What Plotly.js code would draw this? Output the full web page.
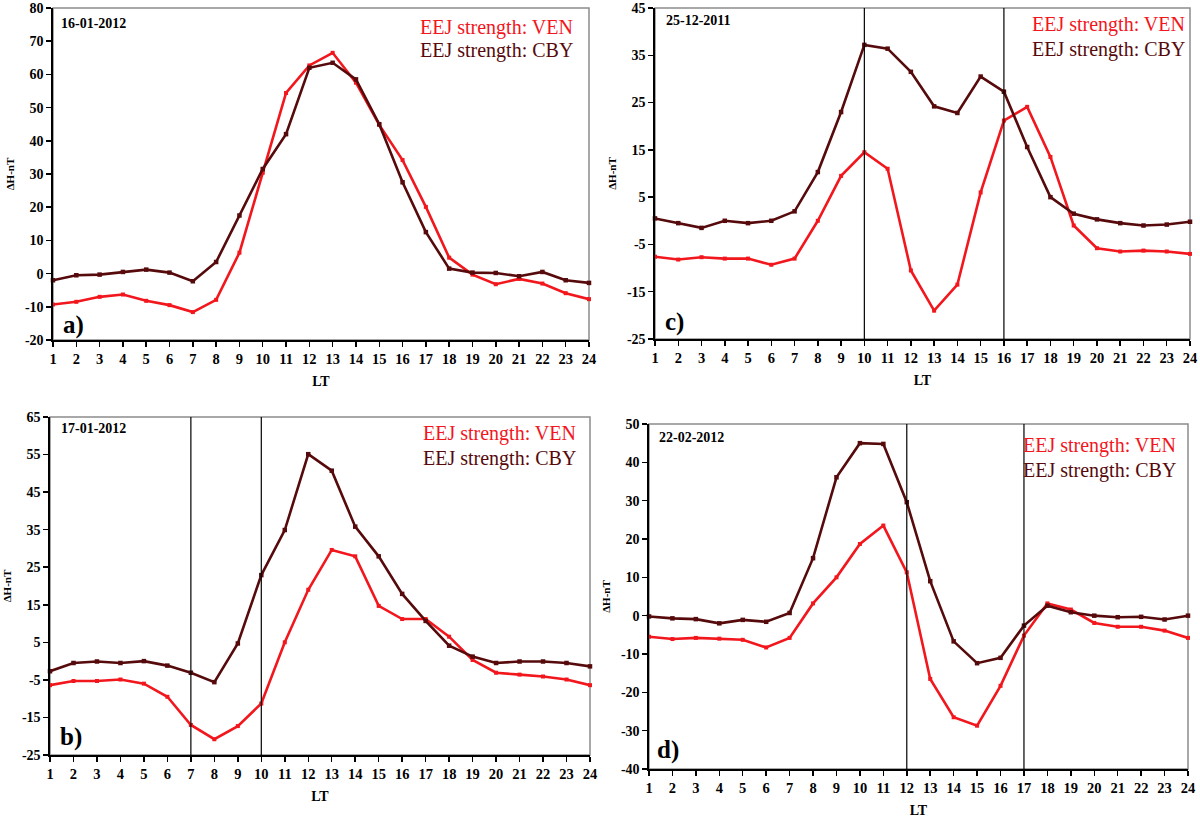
<!DOCTYPE html>
<html>
<head>
<meta charset="utf-8">
<script src="https://cdn.plot.ly/plotly-3.0.1.min.js"></script>
<style>html,body{margin:0;padding:0;background:#fff;}#chart{width:1200px;height:821px;}</style>
</head>
<body>
<div id="chart"></div>
<script>
// ---------- data ----------
const hours = [1,2,3,4,5,6,7,8,9,10,11,12,13,14,15,16,17,18,19,20,21,22,23,24];

// a) 16-01-2012
const venA = [-9.3,-8.5,-7.0,-6.3,-8.2,-9.5,-11.6,-7.9,6.3,30.4,54.4,62.7,66.5,57.5,44.8,34.2,20.1,4.8,-0.3,-3.2,-1.6,-3.0,-5.9,-7.7];
const cbyA = [-2.0,-0.5,-0.3,0.5,1.2,0.3,-2.3,3.5,17.5,31.5,42.0,62.0,63.5,58.5,45.0,27.5,12.5,1.5,0.3,0.2,-0.8,0.5,-2.0,-2.8];

// c) 25-12-2011
const venC = [-7.6,-8.2,-7.7,-8.0,-8.0,-9.3,-8.0,0.0,9.5,14.5,11.0,-10.5,-19.0,-13.5,6.0,21.2,24.1,13.5,-1.0,-5.8,-6.5,-6.3,-6.5,-7.0];
const cbyC = [0.5,-0.5,-1.5,0.0,-0.5,0.0,2.0,10.3,23.0,37.2,36.4,31.5,24.2,22.8,30.5,27.3,15.6,5.0,1.5,0.3,-0.5,-1.0,-0.8,-0.2];

// b) 17-01-2012
const venB = [-6.4,-5.3,-5.3,-4.9,-6.0,-9.5,-17.0,-20.8,-17.3,-11.3,5.0,19.0,29.6,27.9,14.7,11.2,11.2,6.5,0.3,-3.1,-3.6,-4.1,-4.9,-6.4];
const cbyB = [-2.7,-0.5,-0.1,-0.5,0.0,-1.2,-3.1,-5.6,4.7,22.9,34.9,55.1,50.7,35.8,27.9,17.9,10.7,4.1,1.2,-0.5,-0.1,-0.1,-0.5,-1.4];

// d) 22-02-2012
const venD = [-5.5,-6.1,-5.8,-6.0,-6.3,-8.3,-5.8,3.2,10.0,18.7,23.5,11.3,-16.5,-26.5,-28.7,-18.3,-5.2,3.2,1.6,-1.9,-2.9,-2.9,-3.9,-5.8];
const cbyD = [-0.2,-0.7,-0.9,-2.0,-1.1,-1.6,0.7,15.0,36.1,45.0,44.8,29.6,9.0,-6.7,-12.4,-11.0,-2.6,2.6,0.9,0.0,-0.4,-0.3,-1.0,0.0];

// reference (vertical) lines, LT
const markB = [7, 10];
const markC = [10, 16];
const markD = [12, 17];

// tick values / labels
const ytickA = [-20,-10,0,10,20,30,40,50,60,70,80];
const ylabA  = ["-20","-10","0","10","20","30","40","50","60","70","80"];
const ytickC = [-25,-15,-5,5,15,25,35,45];
const ylabC  = ["-25","-15","-5","5","15","25","35","45"];
const ytickB = [-25,-15,-5,5,15,25,35,45,55,65];
const ylabB  = ["-25","-15","-5","5","15","25","35","45","55","65"];
const ytickD = [-40,-30,-20,-10,0,10,20,30,40,50];
const ylabD  = ["-40","-30","-20","-10","0","10","20","30","40","50"];

const dates = ["16-01-2012","25-12-2011","17-01-2012","22-02-2012"];
const panelTags = ["a)","c)","b)","d)"];
const nameVEN = "EEJ strength: VEN";
const nameCBY = "EEJ strength: CBY";

// ---------- style ----------
const W = 1200, H = 821;
const px = x => x / W;
const py = y => 1 - y / H;
const RED = "#f2161d";
const MAROON = "#560a0c";
const SERIF = "Liberation Serif";

// panel boxes in pixels: [left, right, top, bottom]
const boxes = [
  [53, 589, 8, 340],     // a
  [655, 1190, 8, 339],   // c
  [50, 590, 417, 755],   // b
  [649, 1188, 424, 769]  // d
];
const venSets = [venA, venC, venB, venD];
const cbySets = [cbyA, cbyC, cbyB, cbyD];
const yTicks = [ytickA, ytickC, ytickB, ytickD];
const yLabs = [ylabA, ylabC, ylabB, ylabD];
const marks = [[], markC, markB, markD];
const legendPos = [ [575, 28, 51], [1187, 25, 49], [578, 433, 458], [1178, 445, 470] ];
const datePos = [ [59, 23], [664, 21], [59, 428], [657, 438] ];
const tagPos = [ [73, 325], [674, 322], [71, 737], [668, 750] ];

const traces = [];
const layout = {
  width: W, height: H,
  margin: {l: 0, r: 0, t: 0, b: 0},
  paper_bgcolor: "#ffffff",
  plot_bgcolor: "#ffffff",
  showlegend: false,
  font: {family: SERIF, color: "#000"},
  shapes: [],
  annotations: []
};

for (let i = 0; i < 4; i++) {
  const sfx = i === 0 ? "" : String(i + 1);
  const xa = "x" + sfx, ya = "y" + sfx;
  const b = boxes[i];
  traces.push({
    x: hours, y: venSets[i], name: nameVEN, xaxis: xa, yaxis: ya,
    type: "scatter", mode: "lines+markers", cliponaxis: false,
    line: {color: RED, width: 2.6},
    marker: {color: RED, size: 4, symbol: "square"}
  });
  traces.push({
    x: hours, y: cbySets[i], name: nameCBY, xaxis: xa, yaxis: ya,
    type: "scatter", mode: "lines+markers", cliponaxis: false,
    line: {color: MAROON, width: 2.6},
    marker: {color: MAROON, size: 4.5, symbol: "square"}
  });
  const yt = yTicks[i];
  layout["xaxis" + sfx] = {
    domain: [px(b[0]), px(b[1])], anchor: ya,
    range: [1, 24], tickmode: "array", tickvals: hours,
    ticktext: hours.map(String), ticklabeloverflow: "allow",
    ticks: "outside", ticklen: 5, tickwidth: 1.5, tickcolor: "#000",
    showline: true, linecolor: "#000", linewidth: 1.6,
    showgrid: false, zeroline: false, automargin: false,
    tickfont: {family: SERIF, size: 14.5, color: "#000", weight: "bold"},
    title: {text: "LT", font: {family: SERIF, size: 14, color: "#000", weight: "bold"}, standoff: 10},
    fixedrange: true
  };
  layout["yaxis" + sfx] = {
    domain: [py(b[3]), py(b[2])], anchor: xa,
    range: [yt[0], yt[yt.length - 1]], tickmode: "array",
    tickvals: yt, ticktext: yLabs[i], ticklabeloverflow: "allow",
    ticks: "outside", ticklen: 5, tickwidth: 1.5, tickcolor: "#000",
    showline: true, linecolor: "#000", linewidth: 1.6,
    showgrid: false, zeroline: false, automargin: false,
    tickfont: {family: SERIF, size: 14, color: "#000", weight: "bold"},
    title: {text: "ΔH-nT", font: {family: SERIF, size: 11, color: "#000", weight: "bold"}, standoff: 8},
    fixedrange: true
  };
  // grey frame
  layout.shapes.push({
    type: "rect", layer: "below", xref: xa + " domain", yref: ya + " domain",
    x0: 0, x1: 1, y0: 0, y1: 1, line: {color: "#8c8c8c", width: 1.5}
  });
  // vertical reference lines
  marks[i].forEach(m => layout.shapes.push({
    type: "line", layer: "above", xref: xa, yref: ya + " domain",
    x0: m, x1: m, y0: 0, y1: 1, line: {color: "#000", width: 1.2}
  }));
  // legend texts
  const lp = legendPos[i];
  layout.annotations.push({
    xref: "paper", yref: "paper", x: px(lp[0]), y: py(lp[1]),
    xanchor: "right", yanchor: "middle", showarrow: false,
    text: nameVEN, font: {family: SERIF, size: 20, color: RED}
  });
  layout.annotations.push({
    xref: "paper", yref: "paper", x: px(lp[0]), y: py(lp[2]),
    xanchor: "right", yanchor: "middle", showarrow: false,
    text: nameCBY, font: {family: SERIF, size: 20, color: MAROON}
  });
  // date label
  const dp = datePos[i];
  layout.annotations.push({
    xref: "paper", yref: "paper", x: px(dp[0]), y: py(dp[1]),
    xanchor: "left", yanchor: "middle", showarrow: false,
    text: dates[i], font: {family: SERIF, size: 14, color: "#000", weight: "bold"}
  });
  // panel tag
  const tp = tagPos[i];
  layout.annotations.push({
    xref: "paper", yref: "paper", x: px(tp[0]), y: py(tp[1]),
    xanchor: "center", yanchor: "middle", showarrow: false,
    text: panelTags[i], font: {family: SERIF, size: 25, color: "#000", weight: "bold"}
  });
}

Plotly.newPlot("chart", traces, layout, {displayModeBar: false, staticPlot: true});
</script>
</body>
</html>
